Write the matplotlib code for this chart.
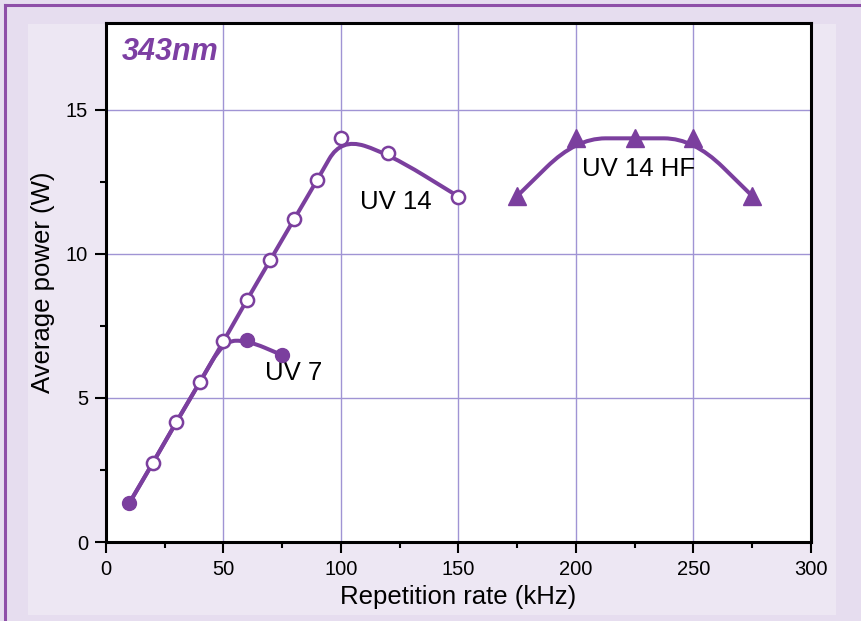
import numpy as np
import matplotlib
matplotlib.use("Agg")
import matplotlib.pyplot as plt
from matplotlib.path import Path
from matplotlib.patches import PathPatch, Rectangle
from matplotlib.lines import Line2D

plt.rcParams['font.family'] = ['Liberation Sans', 'DejaVu Sans']

# Datos
uv14_x = [10, 20, 30, 40, 50, 60, 70, 80, 90, 100, 120, 150]
uv14_y = [1.36, 2.75, 4.17, 5.55, 6.96, 8.4, 9.79, 11.19, 12.57, 14.0, 13.48, 11.98]

uv7_x = [10, 60, 75]
uv7_y = [1.36, 7.0, 6.48]
# curva de UV 7 (comparte el tramo inicial con UV 14)
uv7_curve_x = [10, 20, 30, 40, 50, 60, 75]
uv7_curve_y = [1.36, 2.75, 4.17, 5.55, 6.96, 7.0, 6.48]

hf_x = [175, 200, 225, 250, 275]
hf_y = [12.0, 14.0, 14.0, 14.0, 12.0]

purple = '#7b3f9e'
grid_c = '#a094d4'


def smooth_path(xs, ys):
    # B-spline cuadrática: puntos medios como nodos, datos como control
    pts = list(zip(xs, ys))
    verts = [pts[0]]
    codes = [Path.MOVETO]
    mids = [((pts[i][0] + pts[i + 1][0]) / 2, (pts[i][1] + pts[i + 1][1]) / 2)
            for i in range(len(pts) - 1)]
    verts.append(mids[0])
    codes.append(Path.LINETO)
    for i in range(1, len(pts) - 1):
        verts += [pts[i], mids[i]]
        codes += [Path.CURVE3, Path.CURVE3]
    verts.append(pts[-1])
    codes.append(Path.LINETO)
    return Path(verts, codes)


fig = plt.figure(figsize=(8.62, 6.21), dpi=100)
fig.patch.set_facecolor('#e6ddef')
fig.patches.append(Rectangle((28 / 862, 6 / 621), (836 - 28) / 862, (606 - 15) / 621,
                             transform=fig.transFigure, facecolor='#ede7f3',
                             edgecolor='none', zorder=-5))
fig.lines.append(Line2D([5 / 862, 1], [1 - 5 / 621, 1 - 5 / 621], transform=fig.transFigure,
                        color='#8e4fa8', lw=2.2, zorder=-4))
fig.lines.append(Line2D([5 / 862, 5 / 862], [0, 1 - 5 / 621], transform=fig.transFigure,
                        color='#8e4fa8', lw=2.2, zorder=-4))

ax = fig.add_axes([106 / 862, 79 / 621, (811 - 106) / 862, (542 - 23) / 621])
ax.set_facecolor('white')

for cx, cy in [(uv7_curve_x, uv7_curve_y), (uv14_x, uv14_y), (hf_x, hf_y)]:
    ax.add_patch(PathPatch(smooth_path(cx, cy), facecolor='none',
                           edgecolor=purple, lw=2.9, zorder=3, capstyle='round'))

ax.plot(uv14_x[1:], uv14_y[1:], 'o', ms=9.5, mfc='white', mec=purple, mew=1.8, zorder=4)
ax.plot(uv7_x, uv7_y, 'o', ms=10, mfc=purple, mec=purple, zorder=4)
ax.plot(hf_x, hf_y, '^', ms=12.5, mfc=purple, mec=purple, zorder=4)

ax.text(123.5, 11.8, 'UV 14', fontsize=18.5, ha='center', va='center')
ax.text(80, 5.85, 'UV 7', fontsize=18.5, ha='center', va='center')
ax.text(226.5, 12.95, 'UV 14 HF', fontsize=18.5, ha='center', va='center')
ax.text(6.5, 17.0, '343nm', fontsize=22, fontweight='bold', fontstyle='italic',
        color='#7d3fa3', ha='left', va='center')

ax.set_xlim(0, 300)
ax.set_ylim(0, 18)
ax.set_xticks(np.arange(0, 301, 50))
ax.set_xticks(np.arange(25, 300, 50), minor=True)
ax.set_yticks([0, 5, 10, 15])
ax.set_yticks([2.5, 7.5, 12.5], minor=True)
ax.grid(True, which='major', color=grid_c, lw=1.0)
ax.set_axisbelow(True)
ax.tick_params(which='major', direction='out', length=8, width=1.5, labelsize=14.5, pad=5)
ax.tick_params(which='minor', direction='out', length=4.5, width=1.5)
for s in ax.spines.values():
    s.set_linewidth(2.2)
    s.set_color('black')

ax.set_xlabel('Repetition rate (kHz)', fontsize=18.5, labelpad=4)
ax.set_ylabel('Average power (W)', fontsize=18.5, labelpad=8)

fig.savefig('out.png', dpi=100, facecolor=fig.get_facecolor())
